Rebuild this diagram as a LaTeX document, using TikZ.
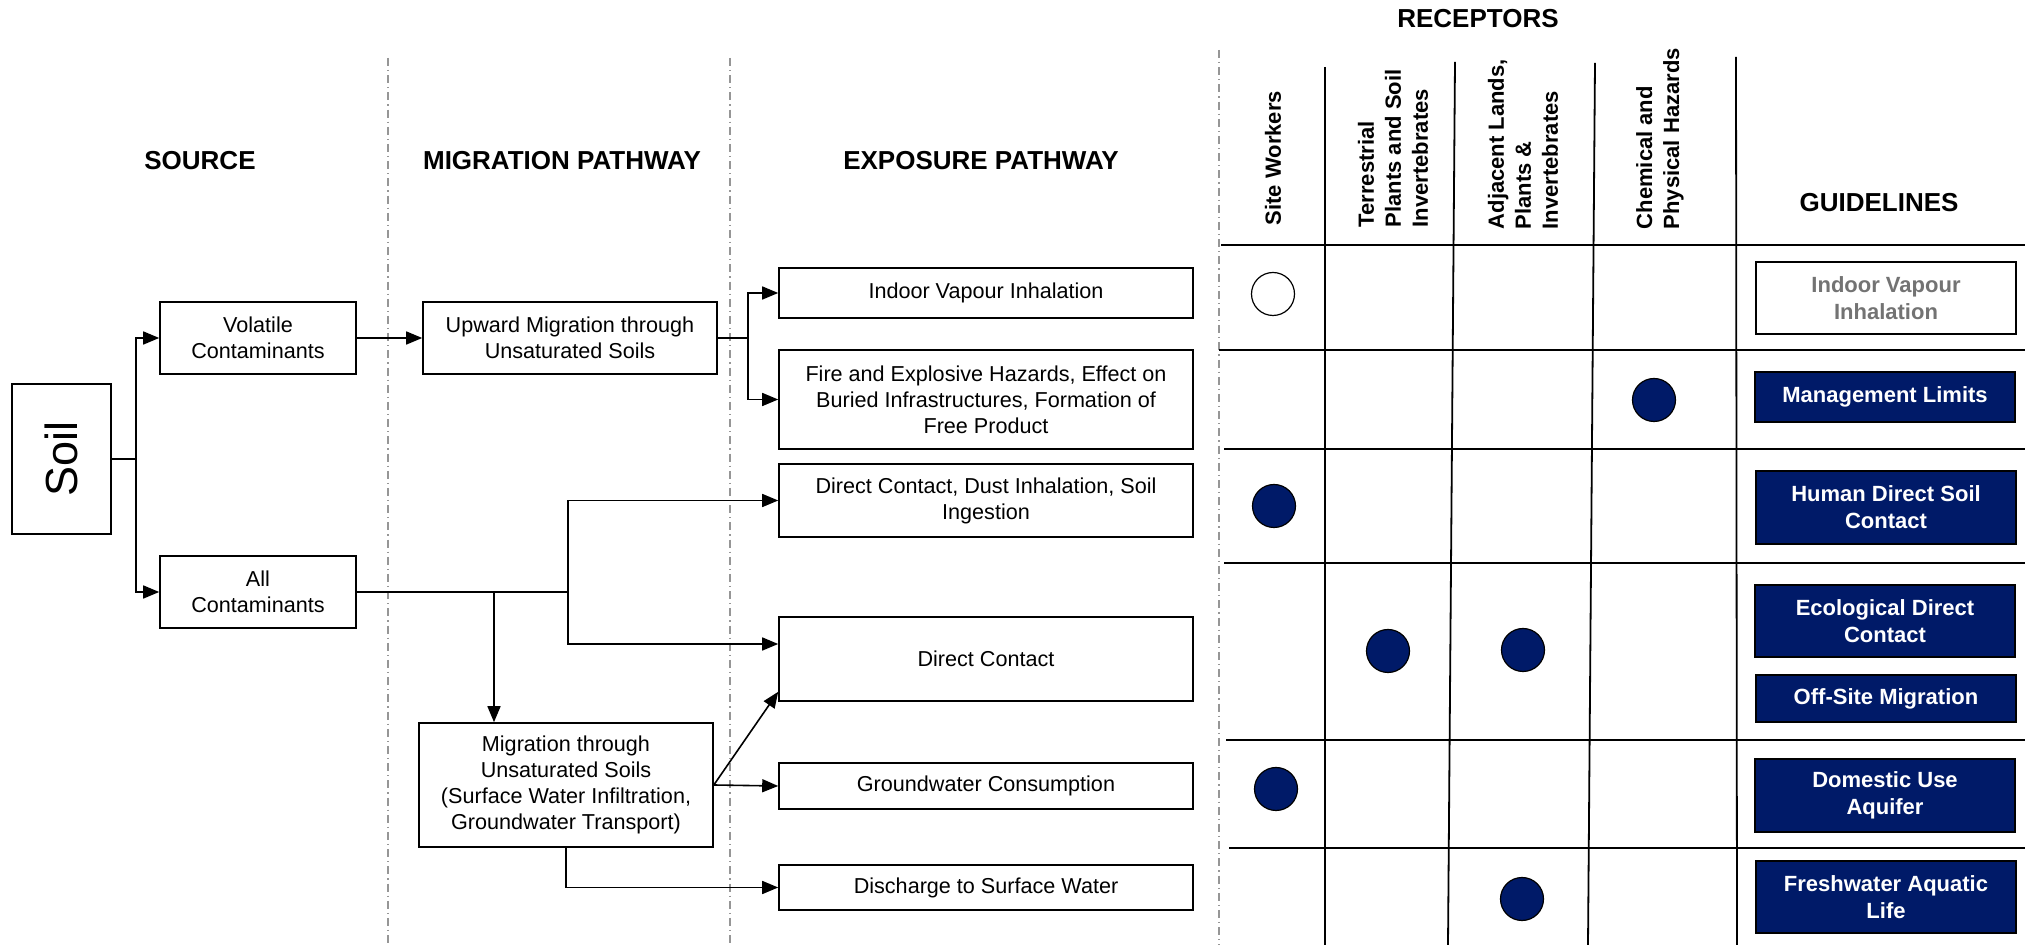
\documentclass[tikz,border=0pt]{standalone}
\usepackage{fontspec}
\setmainfont{Liberation Sans}
\usepackage{graphicx}
\usepackage{tikz}
\usetikzlibrary{arrows.meta}
\definecolor{navy}{RGB}{0,26,104}
\definecolor{sepgray}{RGB}{150,150,150}

\begin{document}
\begin{tikzpicture}[x=0.5pt,y=-0.5pt,line width=0.8pt,
	box/.style={draw,align=center,inner sep=2pt,font=\fontsize{10.8}{13}\selectfont},
	expo/.style={box,minimum width=207pt},
	hdr/.style={font=\bfseries\fontsize{13}{15}\selectfont},
	rec/.style={rotate=90,anchor=west,align=left,inner sep=0pt,font=\bfseries\fontsize{11}{13.5}\selectfont},
	guide/.style={draw,fill=navy,text=white,align=center,minimum width=130pt,font=\bfseries\fontsize{11}{13.5}\selectfont},
	dot/.style={circle,draw,line width=0.6pt,fill=navy,minimum size=21.5pt,inner sep=0pt},
	sep/.style={sepgray,line width=0.6pt,dash pattern=on 4pt off 2pt on 0.6pt off 2pt},
	grid/.style={line width=0.9pt},
	arr/.style={-{Triangle[length=8pt,width=6.5pt]}}]
	\useasboundingbox (0,0) rectangle (2025,945);
	\draw[sep] (388,58) -- (388,945);
	\draw[sep] (730,58) -- (730,945);
	\draw[sep] (1219,50) -- (1219,945);

	\node[hdr] (hsrc) at (200,161) {SOURCE};
	\node[hdr] (hmig) at (562,161) {MIGRATION PATHWAY};
	\node[hdr] (hexp) at (981,161) {EXPOSURE PATHWAY};
	\node[hdr] (hrec) at (1478,19) {RECEPTORS};
	\node[hdr] (hgl) at (1879,203) {GUIDELINES};

	\node[box,minimum width=49.5pt,minimum height=75pt,font=\fontsize{22.5}{27}\selectfont] (soil) at (61.5,459) {\rotatebox{90}{Soil}};
	\node[box,minimum width=98pt,minimum height=36pt] (vol) at (258,338) {Volatile\\Contaminants};
	\node[box,minimum width=98pt,minimum height=36pt] (allc) at (258,592) {All\\Contaminants};
	\node[box,minimum width=147pt,minimum height=36pt] (upw) at (570,338) {Upward Migration through\\Unsaturated Soils};
	\node[box,minimum width=147pt,minimum height=62pt] (mig) at (566,785) {Migration through\\Unsaturated Soils\\(Surface Water Infiltration,\\Groundwater Transport)};

	\node[expo,minimum height=25pt] (ind) at (986,293) {Indoor Vapour Inhalation};
	\node[expo,minimum height=49.5pt] (fire) at (986,399.5) {Fire and Explosive Hazards, Effect on\\Buried Infrastructures, Formation of\\Free Product};
	\node[expo,minimum height=36.5pt] (dust) at (986,500.5) {Direct Contact, Dust Inhalation, Soil\\Ingestion};
	\node[expo,minimum height=42pt] (dc) at (986,659) {Direct Contact};
	\node[expo,minimum height=23pt] (gw) at (986,786) {Groundwater Consumption};
	\node[expo,minimum height=22.5pt] (dis) at (986,887.5) {Discharge to Surface Water};

	\coordinate (j1) at (136,459);
	\draw (soil.east) -- (j1);
	\draw[arr] (j1) |- (vol.west);
	\draw[arr] (j1) |- (allc.west);
	\draw[arr] (vol) -- (upw);
	\coordinate (j2) at (748,338);
	\draw (upw.east) -- (j2);
	\draw[arr] (j2) |- (ind.west);
	\draw[arr] (j2) |- (fire.west);
	\coordinate (j3) at (494,592);
	\coordinate (j4) at (568,592);
	\draw (allc.east) -- (j4);
	\draw[arr] (j3) -- (j3 |- mig.north);
	\draw[arr] (j4) |- (dust.west);
	\draw[arr] (j4) |- ([yshift=7.5pt]dc.west);
	\draw[arr] (mig.east) -- ([yshift=5pt]dc.south west);
	\draw[arr] (mig.east) -- (gw.west);
	\draw[arr] (mig.south) |- (dis.west);

	\draw[grid] (1221,245) -- (2025,245);
	\foreach \y/\x in {350/1219,449/1224,563/1224,740/1226,848/1229}
	{
	\draw[grid] (\x,\y) -- (2025,\y);
	}
	\draw[grid] (1325,67) -- (1325,945);
	\draw[grid] (1455,62) -- (1448,945);
	\draw[grid] (1595,63) -- (1588,945);
	\draw[grid] (1736,57) -- (1737,945);

	\node[rec] (rsw) at (1273,226) {Site Workers};
	\node[rec] (rtp) at (1393,228) {Terrestrial\\Plants and Soil\\Invertebrates};
	\node[rec] (ral) at (1523,230) {Adjacent Lands,\\Plants \&\\Invertebrates};
	\node[rec] (rch) at (1660,230) {Chemical and\\Physical Hazards};

	\node[dot,fill=white] (c1) at (1273,294) {};
	\foreach \x/\y [count=\i from 2] in {1654/400,1274/506,1388/651,1523/650,1276/789,1522/899}
	{
	\node[dot] (c\i) at (\x,\y) {};
	}

	\node[guide,fill=white,text=black!55,minimum height=36pt] (g1) at (1886,298) {Indoor Vapour\\Inhalation};
	\node[guide,minimum height=25pt] (g2) at (1885,397) {Management Limits};
	\node[guide,minimum height=36.5pt] (g3) at (1886,507.5) {Human Direct Soil\\Contact};
	\node[guide,minimum height=36pt] (g4) at (1885,621) {Ecological Direct\\Contact};
	\node[guide,minimum height=23.5pt] (g5) at (1886,698.5) {Off-Site Migration};
	\node[guide,minimum height=36.5pt] (g6) at (1885,795.5) {Domestic Use\\Aquifer};
	\node[guide,minimum height=36pt] (g7) at (1886,897) {Freshwater Aquatic\\Life};
\end{tikzpicture}
\end{document}
